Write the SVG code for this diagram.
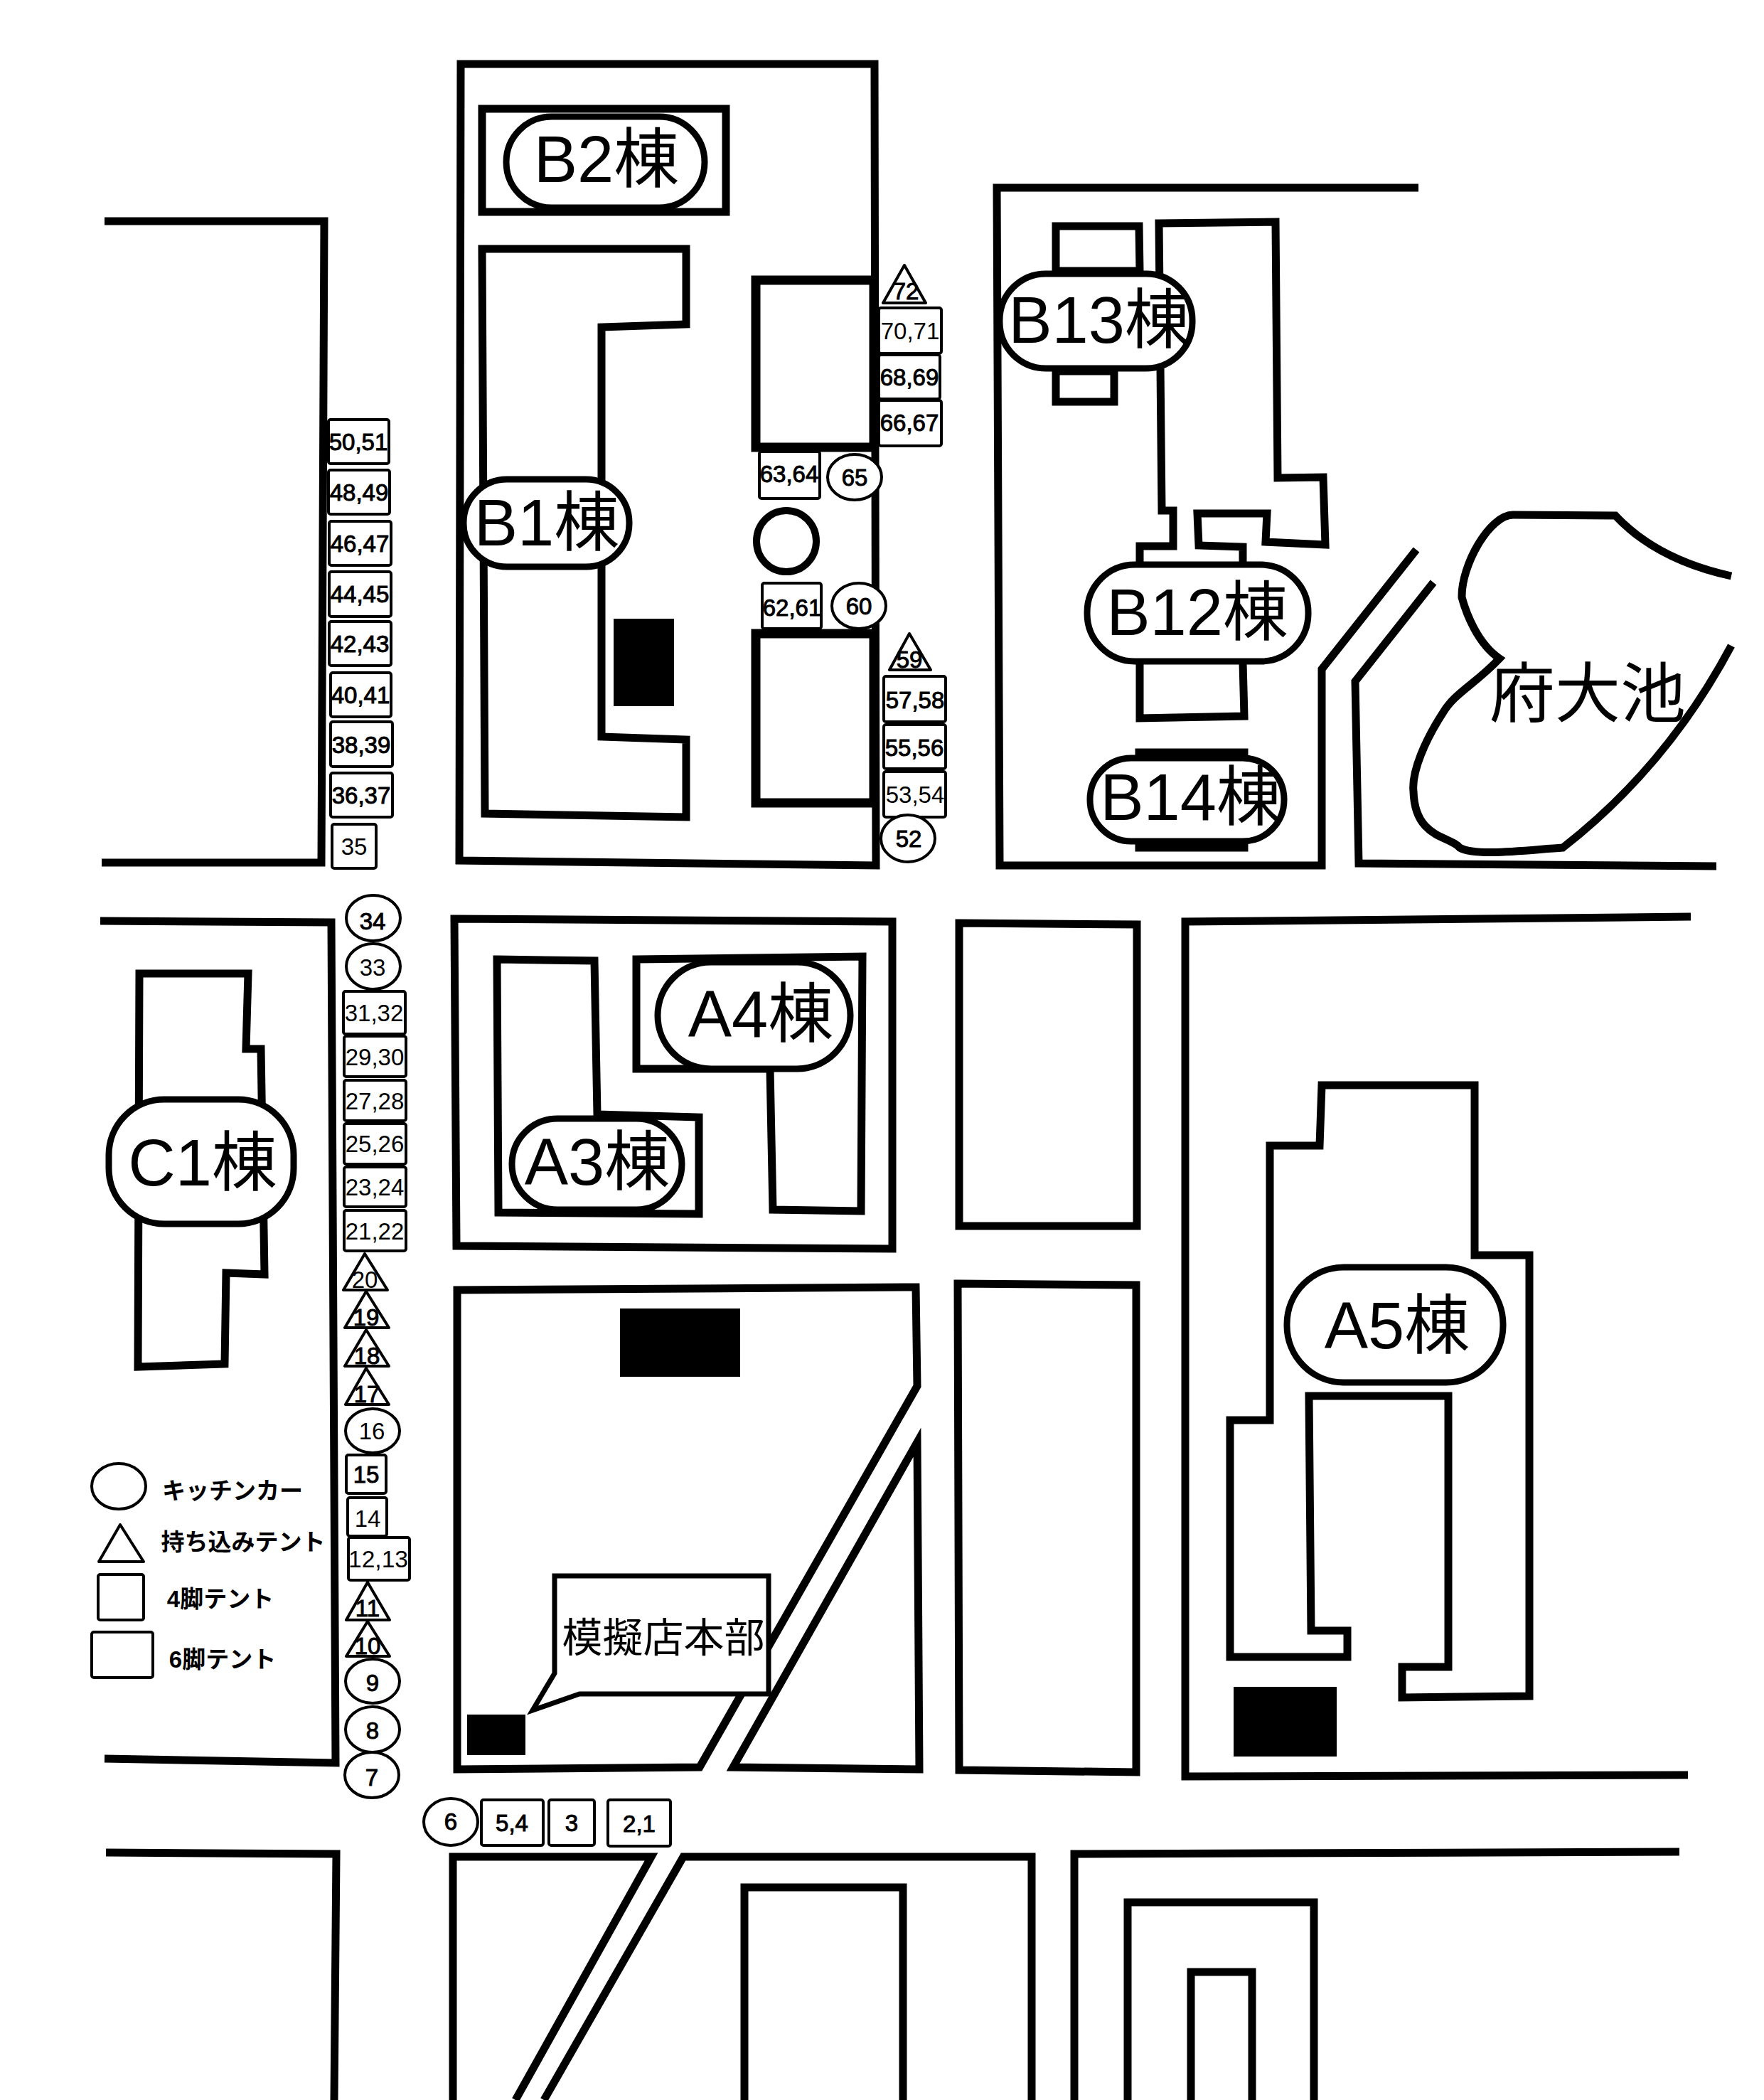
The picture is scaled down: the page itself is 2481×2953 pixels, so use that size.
<svg xmlns="http://www.w3.org/2000/svg" width="2481" height="2953" viewBox="0 0 2481 2953">
<style>
text{font-family:"Liberation Sans","Noto Sans CJK JP",sans-serif;fill:#000;text-anchor:middle}
.r{fill:none;stroke:#000;stroke-width:11;stroke-miterlimit:10}
.w{fill:#fff;stroke:#000;stroke-width:11;stroke-miterlimit:10}
.h{fill:#fff;stroke:#000;stroke-width:13}
.h2{fill:#fff;stroke:#000;stroke-width:11}
.p{fill:#fff;stroke:#000;stroke-width:9}
.t{fill:#fff;stroke:#000;stroke-width:4;stroke-linejoin:round}
.k{fill:#000}
.n{font-size:92px}
.s{font-size:33px}
.b{font-size:33px;stroke:#000;stroke-width:1}
.g{font-size:33px;font-weight:bold}
</style>
<rect width="2481" height="2953" fill="#fff"/>
<g id="roads">
<polyline class="r" points="147,311 456,311 452,1213 143,1213"/>
<polyline class="r" points="141,1295 466,1297 472,2479 147,2473"/>
<polyline class="r" points="149,2605 473,2607 470,2953"/>
<polyline class="r" points="1995,264 1402,264 1406,1217 1859,1217 1859,941 1992,773"/>
<polyline class="r" points="2016,819 1906,958 1911,1214 2414,1218"/>
<polyline class="r" points="637,2953 637,2611 916,2611 725,2953"/>
<polyline class="r" points="765,2953 961,2611 1451,2611 1451,2953"/>
<polyline class="r" points="1511,2953 1511,2607 2362,2604"/>
<polyline class="r" points="2378,1289 1667,1296 1667,2498 2374,2496"/>
</g>
<g id="block-b"><polygon class="r" points="648,90 1230,90 1232,1217 646,1210"/></g>
<g id="block-a"><polygon class="r" points="639,1292 1255,1296 1255,1756 642,1752"/></g>
<g id="block-mid1"><polygon class="r" points="1349,1298 1599,1300 1599,1724 1349,1724"/></g>
<g id="block-mid2"><polygon class="r" points="1347,1805 1598,1807 1598,2492 1349,2489"/></g>
<g id="block-honbu"><polygon class="r" points="643,1814 1288,1810 1290,1949 984,2485 643,2488"/></g>
<g id="block-tri"><polygon class="r" points="1290,2028 1293,2488 1031,2485"/></g>
<g id="bottom-buildings">
<polyline class="r" points="1047,2953 1047,2654 1270,2654 1270,2953"/>
<polyline class="r" points="1586,2953 1586,2675 1848,2675 1848,2953"/>
<polyline class="r" points="1675,2953 1675,2773 1761,2773 1761,2953"/>
</g>
<g id="pond">
<path class="r" d="M2435,810 Q2330,787 2272,725 L2128,724 C2095,724 2055,795 2056,840 C2062,862 2078,905 2109,926 C2075,962 2045,975 2029,1003 C2005,1040 1985,1085 1988,1113 C1990,1180 2040,1175 2053,1192 C2075,1205 2150,1195 2198,1192 C2290,1120 2370,1030 2435,908"/>
<text class="n" x="2233" y="1008">府大池</text>
</g>
<g id="black-boxes">
<rect class="k" x="863" y="870" width="85" height="123"/>
<rect class="k" x="872" y="1840" width="169" height="96"/>
<rect class="k" x="657" y="2411" width="82" height="57"/>
<rect class="k" x="1735" y="2372" width="145" height="98"/>
</g>
<g id="B2">
<rect class="h2" x="678" y="153" width="343" height="145"/>
<rect class="p" x="712" y="164" width="279" height="128" rx="64"/>
<text class="n" x="853" y="256">B2棟</text>
</g>
<g id="B1">
<polygon class="w" points="678,350 965,350 965,456 846,460 846,1036 965,1040 965,1149 682,1144"/>
<rect class="p" x="652" y="674" width="233" height="123" rx="61"/>
<text class="n" x="769" y="767">B1棟</text>
</g>
<g id="B-upper"><rect class="h" x="1063" y="394" width="166" height="235"/></g>
<g id="B-lower"><rect class="h" x="1063" y="891" width="166" height="238"/></g>
<g id="marker-circle"><ellipse cx="1106" cy="761" rx="42" ry="43" fill="#fff" stroke="#000" stroke-width="10"/></g>
<g id="B13">
<polygon class="w" points="1485,522 1485,565 1567,565 1567,522"/>
<polygon class="w" points="1485,381 1485,318 1602,318 1603,381"/>
<polygon class="w" points="1630,314 1794,312 1797,672 1861,671 1864,766 1780,762 1782,722 1684,722 1686,767 1748,769 1748,830 1603,830 1603,768 1650,768 1650,718 1634,718"/>
<rect class="p" x="1406" y="385" width="271" height="133" rx="65"/>
<text class="n" x="1546" y="482">B13棟</text>
</g>
<g id="B12">
<polyline class="w" points="1603,932 1603,1010 1750,1007 1748,932"/>
<rect class="p" x="1529" y="794" width="311" height="136" rx="67"/>
<text class="n" x="1684" y="893">B12棟</text>
</g>
<g id="B14">
<rect class="w" x="1602" y="1058" width="148" height="134"/>
<rect class="p" x="1533" y="1066" width="273" height="117" rx="58"/>
<text class="n" x="1675" y="1153">B14棟</text>
</g>
<g id="C1">
<polygon class="w" points="196,1369 349,1369 346,1475 367,1475 372,1792 318,1790 316,1918 194,1922"/>
<rect class="p" x="153" y="1546" width="260" height="175" rx="78"/>
<text class="n" x="285" y="1667">C1棟</text>
</g>
<g id="A3">
<polygon class="w" points="699,1349 836,1351 840,1567 983,1571 983,1707 701,1705"/>
<rect class="p" x="720" y="1573" width="239" height="128" rx="64"/>
<text class="n" x="840" y="1666">A3棟</text>
</g>
<g id="A4">
<polygon class="w" points="895,1349 1213,1345 1211,1703 1087,1701 1083,1503 895,1503"/>
<rect class="p" x="925" y="1353" width="271" height="150" rx="75"/>
<text class="n" x="1070" y="1458">A4棟</text>
</g>
<g id="A5">
<polygon class="w" points="1859,1526 2074,1526 2074,1765 2151,1765 2151,2385 1972,2387 1972,2344 2037,2344 2037,1963 1841,1963 1844,2293 1895,2293 1895,2330 1730,2330 1730,1997 1786,1997 1786,1611 1856,1611"/>
<rect class="p" x="1810" y="1782" width="304" height="162" rx="80"/>
<text class="n" x="1965" y="1896">A5棟</text>
</g>
<g id="honbu">
<polygon fill="#fff" stroke="#000" stroke-width="7" points="780,2216 1081,2216 1081,2382 815,2382 749,2405 780,2353"/>
<text x="933" y="2323" font-size="57">模擬店本部</text>
</g>
<g id="tents">
<g id="t72"><polygon class="t" points="1272,373 1242,426 1302,426"/><text class="b" x="1274" y="421">72</text></g>
<g id="t70"><rect class="t" x="1236" y="433" width="88" height="64" rx="3"/><text class="s" x="1280" y="477">70,71</text></g>
<g id="t68"><rect class="t" x="1236" y="499" width="86" height="62" rx="3"/><text class="b" x="1279" y="542">68,69</text></g>
<g id="t66"><rect class="t" x="1236" y="563" width="88" height="64" rx="3"/><text class="b" x="1279" y="606">66,67</text></g>
<g id="t63"><rect class="t" x="1068" y="635" width="85" height="66" rx="3"/><text class="b" x="1110" y="678">63,64</text></g>
<g id="t65"><ellipse class="t" cx="1202" cy="671" rx="38" ry="32"/><text class="b" x="1202" y="683">65</text></g>
<g id="t62"><rect class="t" x="1072" y="820" width="83" height="64" rx="3"/><text class="b" x="1114" y="866">62,61</text></g>
<g id="t60"><ellipse class="t" cx="1208" cy="852" rx="38" ry="32"/><text class="b" x="1208" y="864">60</text></g>
<g id="t59"><polygon class="t" points="1279,891 1251,942 1309,942"/><text class="b" x="1279" y="939">59</text></g>
<g id="t57"><rect class="t" x="1243" y="951" width="87" height="64" rx="3"/><text class="b" x="1287" y="996">57,58</text></g>
<g id="t55"><rect class="t" x="1243" y="1019" width="87" height="62" rx="3"/><text class="b" x="1286" y="1063">55,56</text></g>
<g id="t53"><rect class="t" x="1243" y="1085" width="87" height="64" rx="3"/><text class="s" x="1287" y="1129">53,54</text></g>
<g id="t52"><ellipse class="t" cx="1277" cy="1179" rx="38" ry="33"/><text class="b" x="1278" y="1191">52</text></g>
<g id="t50"><rect class="t" x="462" y="590" width="85" height="62" rx="3"/><text class="b" x="504" y="633">50,51</text></g>
<g id="t48"><rect class="t" x="462" y="661" width="86" height="62" rx="3"/><text class="b" x="505" y="704">48,49</text></g>
<g id="t46"><rect class="t" x="463" y="733" width="87" height="62" rx="3"/><text class="b" x="506" y="776">46,47</text></g>
<g id="t44"><rect class="t" x="463" y="804" width="87" height="63" rx="3"/><text class="b" x="506" y="847">44,45</text></g>
<g id="t42"><rect class="t" x="463" y="874" width="87" height="62" rx="3"/><text class="b" x="506" y="917">42,43</text></g>
<g id="t40"><rect class="t" x="465" y="946" width="85" height="62" rx="3"/><text class="b" x="507" y="989">40,41</text></g>
<g id="t38"><rect class="t" x="465" y="1015" width="87" height="63" rx="3"/><text class="b" x="508" y="1059">38,39</text></g>
<g id="t36"><rect class="t" x="465" y="1087" width="87" height="62" rx="3"/><text class="b" x="508" y="1130">36,37</text></g>
<g id="t35"><rect class="t" x="467" y="1159" width="62" height="62" rx="3"/><text class="s" x="498" y="1202">35</text></g>
<g id="t34"><ellipse class="t" cx="525" cy="1291" rx="38" ry="32"/><text class="b" x="524" y="1307">34</text></g>
<g id="t33"><ellipse class="t" cx="525" cy="1359" rx="38" ry="32"/><text class="s" x="524" y="1372">33</text></g>
<g id="t31"><rect class="t" x="483" y="1394" width="87" height="60" rx="3"/><text class="s" x="526" y="1436">31,32</text></g>
<g id="t29"><rect class="t" x="484" y="1457" width="87" height="57" rx="3"/><text class="s" x="527" y="1498">29,30</text></g>
<g id="t27"><rect class="t" x="484" y="1519" width="87" height="57" rx="3"/><text class="s" x="527" y="1560">27,28</text></g>
<g id="t25"><rect class="t" x="484" y="1580" width="87" height="57" rx="3"/><text class="s" x="527" y="1620">25,26</text></g>
<g id="t23"><rect class="t" x="484" y="1641" width="87" height="56" rx="3"/><text class="s" x="527" y="1681">23,24</text></g>
<g id="t21"><rect class="t" x="484" y="1702" width="87" height="57" rx="3"/><text class="s" x="527" y="1743">21,22</text></g>
<g id="t20"><polygon class="t" points="513,1763 483,1814 545,1814"/><text class="s" x="513" y="1811">20</text></g>
<g id="t19"><polygon class="t" points="515,1816 485,1867 547,1867"/><text class="b" x="515" y="1864">19</text></g>
<g id="t18"><polygon class="t" points="515,1870 485,1921 547,1921"/><text class="b" x="516" y="1918">18</text></g>
<g id="t17"><polygon class="t" points="515,1924 486,1975 547,1975"/><text class="b" x="516" y="1972">17</text></g>
<g id="t16"><ellipse class="t" cx="524" cy="2012" rx="38" ry="31"/><text class="s" x="523" y="2024">16</text></g>
<g id="t15"><rect class="t" x="487" y="2046" width="56" height="54" rx="3"/><text class="b" x="515" y="2085">15</text></g>
<g id="t14"><rect class="t" x="489" y="2106" width="55" height="54" rx="3"/><text class="s" x="517" y="2147">14</text></g>
<g id="t12"><rect class="t" x="490" y="2162" width="86" height="60" rx="3"/><text class="s" x="532" y="2204" textLength="84" lengthAdjust="spacingAndGlyphs">12,13</text></g>
<g id="t11"><polygon class="t" points="517,2225 487,2278 548,2278"/><text class="b" x="517" y="2273">11</text></g>
<g id="t10"><polygon class="t" points="517,2280 487,2329 548,2329"/><text class="b" x="517" y="2326">10</text></g>
<g id="t9"><ellipse class="t" cx="524" cy="2364" rx="38" ry="31"/><text class="b" x="524" y="2378">9</text></g>
<g id="t8"><ellipse class="t" cx="524" cy="2432" rx="38" ry="32"/><text class="b" x="524" y="2445">8</text></g>
<g id="t7"><ellipse class="t" cx="523" cy="2496" rx="38" ry="32"/><text class="b" x="523" y="2511">7</text></g>
<g id="t6"><ellipse class="t" cx="634" cy="2562" rx="38" ry="33"/><text class="b" x="634" y="2573">6</text></g>
<g id="t5"><rect class="t" x="677" y="2531" width="87" height="64" rx="3"/><text class="b" x="720" y="2575">5,4</text></g>
<g id="t3"><rect class="t" x="772" y="2531" width="64" height="64" rx="3"/><text class="b" x="804" y="2575">3</text></g>
<g id="t2"><rect class="t" x="855" y="2531" width="88" height="65" rx="3"/><text class="b" x="899" y="2576">2,1</text></g>
</g>
<g id="legend">
<g id="legend-kitchen"><ellipse class="t" cx="167" cy="2090" rx="38" ry="32"/><text class="g" x="327" y="2108">キッチンカー</text></g>
<g id="legend-own"><polygon class="t" points="169,2144 139,2196 202,2196"/><text class="g" x="342" y="2180">持ち込みテント</text></g>
<g id="legend-4"><rect class="t" x="138" y="2214" width="64" height="64" rx="3"/><text class="g" x="310" y="2260">4脚テント</text></g>
<g id="legend-6"><rect class="t" x="129" y="2295" width="86" height="64" rx="3"/><text class="g" x="313" y="2345">6脚テント</text></g>
</g>
</svg>
